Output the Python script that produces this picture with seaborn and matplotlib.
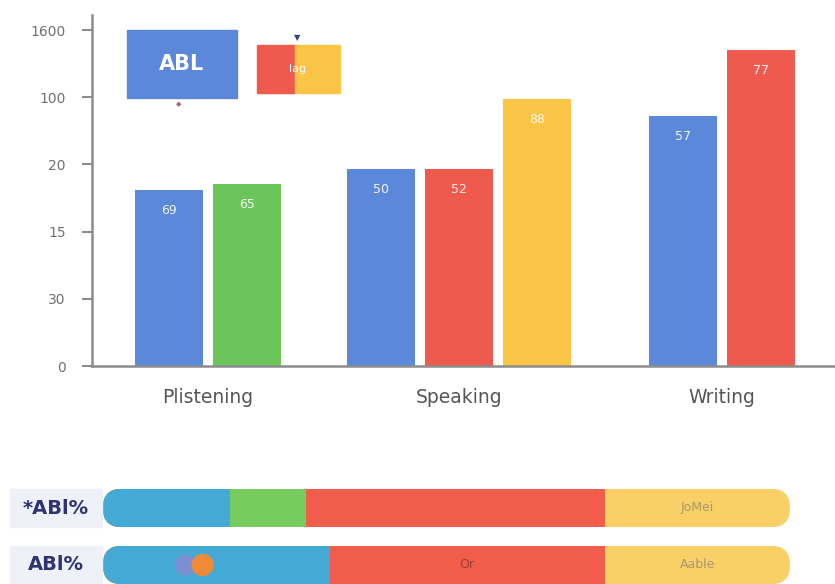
import numpy as np
import pandas as pd
import matplotlib
matplotlib.use("Agg")
import matplotlib.pyplot as plt
from matplotlib.patches import Rectangle, FancyBboxPatch
import seaborn as sns

# ---------------- data ----------------
categories = ["Plistening", "Speaking", "Writing"]
bar_category = ["Plistening", "Plistening", "Speaking", "Speaking", "Speaking", "Writing", "Writing"]
bar_series = ["A", "B", "A", "C", "D", "A", "C"]
bar_values = [2.62, 2.71, 2.93, 2.93, 3.97, 3.72, 4.70]
bar_labels = ["69", "65", "50", "52", "88", "57", "77"]
ytick_values = [0, 1, 2, 3, 4, 5]
ytick_labels = ["0", "30", "15", "20", "100", "1600"]

row_labels = ["*ABl%", "ABl%"]
row_segments = ["c", "g", "r", "y"]
row1_values = [18.5, 11.0, 43.5, 27.0]
row2_values = [33.0, 0.0, 40.0, 27.0]
row_texts = [["", "", "", "JoMei"], ["", "", "Or", "Aable"]]

series_colors = {"A": "#5B88D9", "B": "#6CC55A", "C": "#EE5A4E", "D": "#FAC546"}
seg_colors = {"c": "#45A9D6", "g": "#76CC5E", "r": "#F05D4B", "y": "#F8D066"}

# ---------------- layout helpers ----------------
gaps = [0.72, 0.87]
xpos = []
centers = []
start = 0.0
for j, cat in enumerate(categories):
    n = bar_category.count(cat)
    xpos.extend([start + k * 1.0 for k in range(n)])
    centers.append(start + (n - 1) / 2)
    start += n + (gaps[j] if j < len(gaps) else 0)

df = pd.DataFrame({"x": xpos, "value": bar_values, "series": bar_series,
                   "category": bar_category})

sns.set_theme(style="white")
plt.rcParams["font.family"] = ["DejaVu Sans"]

W, H = 835, 584
fig = plt.figure(figsize=(W / 100, H / 100), dpi=100)
fig.patch.set_facecolor("white")

def fx(px):
    return px / W

def fy(py):
    return 1 - py / H

# ---------------- top chart ----------------
ax = fig.add_axes([fx(92), fy(366), 1 - fx(92), fy(15) - fy(366)])
sns.barplot(data=df, x="x", y="value", hue="series", palette=series_colors,
            native_scale=True, dodge=False, width=0.87, legend=False,
            saturation=1, linewidth=0, ax=ax)
ax.set_xlim((92 - 169) / 78, (835 - 169) / 78)
ax.set_ylim(0, 351 / 67.2)
ax.set_yticks(ytick_values)
ax.set_yticklabels(ytick_labels, color="#707070", fontsize=10)
ax.set_xticks(centers)
ax.set_xticklabels(categories, color="#555555", fontsize=13.5)
ax.set_xlabel("")
ax.set_ylabel("")
for s in ["top", "right"]:
    ax.spines[s].set_visible(False)
for s in ["left", "bottom"]:
    ax.spines[s].set_color("#8C8C8C")
    ax.spines[s].set_linewidth(1.8)
ax.tick_params(axis="y", left=True, length=7, width=1.5, color="#8C8C8C", pad=12)
ax.tick_params(axis="x", bottom=False, length=0, pad=16)
for x, v, t in zip(xpos, bar_values, bar_labels):
    ax.text(x, v - 0.3, t, color="white", fontsize=9, ha="center", va="center",
            alpha=0.9)

# legend-like boxes
fig.patches.append(Rectangle((fx(127), fy(98)), fx(110), fy(30) - fy(98),
                             transform=fig.transFigure, color=series_colors["A"]))
fig.text(fx(182), fy(64), "ABL", color="white", fontsize=15, fontweight="bold",
         ha="center", va="center")
fig.patches.append(Rectangle((fx(257), fy(93)), fx(38), fy(45) - fy(93),
                             transform=fig.transFigure, color=series_colors["C"]))
fig.patches.append(Rectangle((fx(295), fy(93)), fx(45), fy(45) - fy(93),
                             transform=fig.transFigure, color="#FAC546"))
fig.text(fx(298), fy(69), "lag", color="white", fontsize=8, ha="center", va="center")
fig.text(fx(297), fy(38), "\u25BC", color="#3A4070", fontsize=6, ha="center", va="center")
fig.text(fx(179), fy(104), "\u25C6", color="#B06080", fontsize=5, ha="center", va="center")

# ---------------- bottom progress rows ----------------
bx = fig.add_axes([fx(103), fy(600), fx(790) - fx(103), fy(480) - fy(600)])
left = np.zeros(len(row_labels))
for i, seg in enumerate(row_segments):
    vals = np.array([row1_values[i], row2_values[i]])
    sub = pd.DataFrame({"row": row_labels, "value": left + vals})
    sns.barplot(data=sub, y="row", x="value", color=seg_colors[seg], orient="h",
                width=0.67, saturation=1, linewidth=0, ax=bx, zorder=10 - i)
    for r in range(len(row_labels)):
        txt = row_texts[r][i]
        if txt and vals[r] > 0:
            bx.text(left[r] + vals[r] / 2, r, txt,
                    color="#9A8A70" if seg == "y" else "#8A3A30",
                    fontsize=9, ha="center", va="center", zorder=20, alpha=0.8)
    left = left + vals
bx.set_xlim(0, 100)
bx.set_ylim(1.614, -0.491)
bx.axis("off")

# round the ends of each pill by clipping
for p in list(bx.patches):
    if isinstance(p, Rectangle):
        cy = p.get_y() + p.get_height() / 2
        r = int(round(cy))
        clip = FancyBboxPatch((0.0, r - 0.335), 100, 0.67,
                              boxstyle="round,pad=0,rounding_size=2.7",
                              mutation_aspect=0.12,
                              transform=bx.transData)
        p.set_clip_path(clip)

# small blobs on second row
bx.scatter([12.0], [1], s=220, color="#8C86D0", zorder=29, edgecolors="none", alpha=0.8)
bx.scatter([14.5], [1], s=260, color="#EE8A3A", zorder=30, edgecolors="none")

# row labels
for r, lab in enumerate(row_labels):
    cy = 508 + 57 * r
    fig.patches.append(Rectangle((fx(10), fy(cy + 19)), fx(92), fy(cy - 19) - fy(cy + 19),
                                 transform=fig.transFigure, color="#EEF1F8", zorder=0))
    fig.text(fx(56), fy(cy), lab, color="#2E3470", fontsize=14, fontweight="bold",
             ha="center", va="center")

fig.savefig("out.png", dpi=100, facecolor="white")
